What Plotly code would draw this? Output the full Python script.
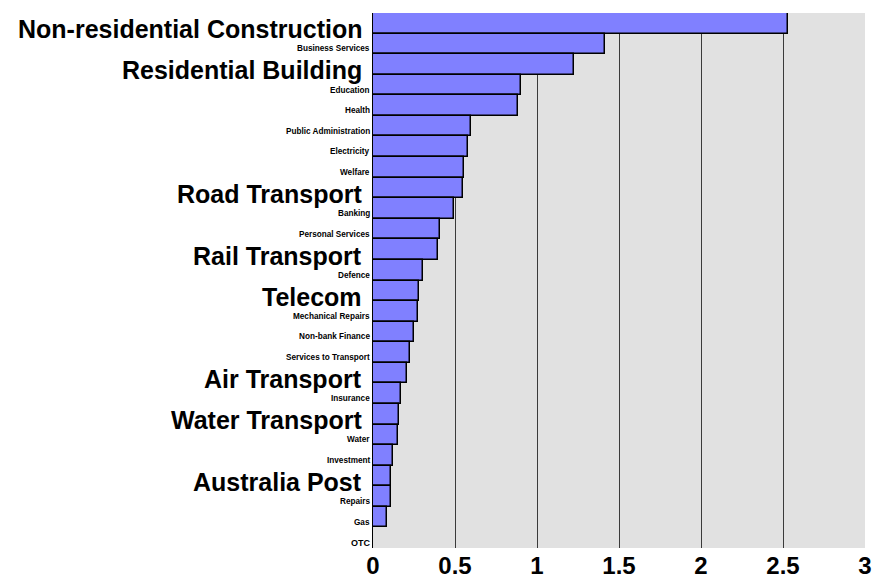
import plotly.graph_objects as go

# Industry sectors, top to bottom, and their values
sectors = [
    "Non-residential Construction", "Business Services", "Residential Building",
    "Education", "Health", "Public Administration", "Electricity", "Welfare",
    "Road Transport", "Banking", "Personal Services", "Rail Transport", "Defence",
    "Telecom", "Mechanical Repairs", "Non-bank Finance", "Services to Transport",
    "Air Transport", "Insurance", "Water Transport", "Water", "Investment",
    "Australia Post", "Repairs", "Gas", "OTC",
]
values = [
    2.53, 1.415, 1.225,
    0.90, 0.885, 0.60, 0.58, 0.555,
    0.55, 0.495, 0.41, 0.395, 0.305,
    0.28, 0.275, 0.25, 0.225,
    0.205, 0.17, 0.16, 0.15, 0.12,
    0.11, 0.11, 0.085, 0.0,
]
# Sectors shown with large headings
highlighted = {
    "Non-residential Construction", "Residential Building", "Road Transport",
    "Rail Transport", "Telecom", "Air Transport", "Water Transport", "Australia Post",
}
x_ticks = [0, 0.5, 1, 1.5, 2, 2.5, 3]
x_tick_text = ["0", "0.5", "1", "1.5", "2", "2.5", "3"]

FONT = "Arial, Liberation Sans, sans-serif"

fig = go.Figure(
    go.Bar(
        x=values,
        y=sectors,
        orientation="h",
        marker=dict(color="#8080ff", line=dict(color="black", width=1.5)),
        hoverinfo="x+y",
    )
)

annotations = []
for name in sectors:
    big = name in highlighted
    size = 25 if big else (9 if name == "OTC" else 8.2)
    annotations.append(dict(
        x=0, xref="paper", y=name, yref="y",
        text=f"<b>{name}</b>",
        showarrow=False, xanchor="right", yanchor="middle",
        xshift=-9 if big else -1,
        yshift=-6 if big else -5,
        font=dict(family=FONT, size=size, color="black"),
    ))

fig.update_layout(
    width=877, height=584,
    margin=dict(l=373, r=12, t=13, b=36),
    paper_bgcolor="white",
    plot_bgcolor="#e1e1e1",
    bargap=0,
    showlegend=False,
    annotations=annotations,
    xaxis=dict(
        range=[0, 3],
        tickvals=x_ticks,
        ticktext=[f"<b>{t}</b>" for t in x_tick_text],
        tickfont=dict(family=FONT, size=24, color="black"),
        showgrid=True, gridcolor="#3a3a3a", gridwidth=1,
        zeroline=False, showline=False, ticks="",
        ticklabelstandoff=1,
        automargin=False,
    ),
    yaxis=dict(
        range=[len(sectors) - 0.5, -0.5],
        showticklabels=False,
        showgrid=False, zeroline=False,
        showline=True, linecolor="black", linewidth=1,
        ticks="",
        automargin=False,
    ),
)

fig.write_html("out.html")
